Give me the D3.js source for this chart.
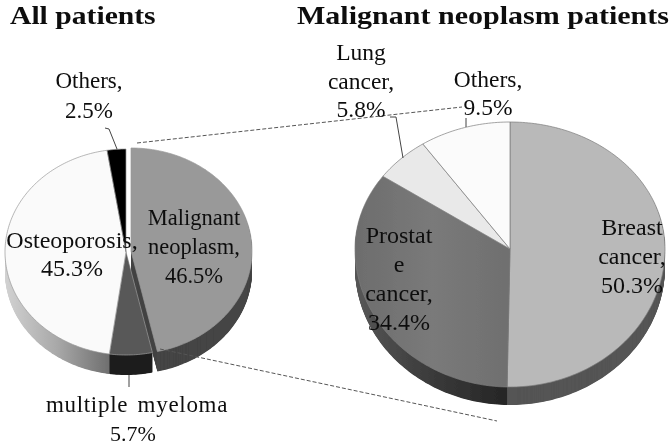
<!DOCTYPE html>
<html><head><meta charset="utf-8">
<script src="https://cdn.jsdelivr.net/npm/d3@7/dist/d3.min.js"></script>
<style>html,body{margin:0;padding:0;background:#fff}svg{display:block}text{font-family:"Liberation Serif",serif;fill:#111}</style>
</head><body><svg id="c" width="670" height="446"></svg>
<script>
const leftCategories=["Malignant neoplasm","multiple myeloma","Osteoporosis","Others"];
const leftValues=[46.5,5.7,45.3,2.5];
const rightCategories=["Breast cancer","Prostate cancer","Lung cancer","Others"];
const rightValues=[50.3,34.4,5.8,9.5];
const titleTexts=["All patients","Malignant neoplasm patients"];
const labelTexts=[["Malignant","neoplasm,","46.5%"],["Osteoporosis,","45.3%"],["Others,","2.5%"],["multiple myeloma"],["5.7%"],["Lung","cancer,","5.8%"],["Others,","9.5%"],["Breast","cancer,","50.3%"],["Prostat","e","cancer,","34.4%"]];

// styling and layout
const leftTop=["#999999","#585858","#fafafa","#000000"];
const leftWall=["#454545","#1e1e1e","url(#wallL)","#000000"];
const rightTop=["#b9b9b9","url(#topP)","#e9e9e9","#fbfbfb"];
const rightWall=["#555555","url(#wallP)","#999999","#bbbbbb"];
const titleLayout=[{x:10,y:23.5,sx:1.14},{x:297,y:23.5,sx:1.155}];
const labelLayout=[
 {x:194,y:225,dy:29,fs:22.5},
 {x:72,y:248,dy:28,fs:24},
 {x:89,y:88,dy:30,fs:23},
 {x:137,y:412,dy:0,fs:23,ls:0.7,ws:3},
 {x:133,y:441,dy:0,fs:22},
 {x:361,y:60,dy:28.5,fs:23.5},
 {x:488,y:87,dy:28,fs:23.5},
 {x:632,y:235,dy:29,fs:24},
 {x:399,y:243,dy:29,fs:24}
];
const leaders=[
 [[105,128],[109,129],[117,149]],
 [[390,117],[396,117],[403,158]],
 [[466,118],[466,127]],
 [[129,375],[129,387]]
];
const dashes=[
 [[137,143],[462,107]],
 [[160,349],[497,421]]
];
const svg=d3.select("#c");
const defs=svg.append("defs");
function grad(id,stops,x1,x2){
 const g=defs.append("linearGradient").attr("id",id).attr("gradientUnits","userSpaceOnUse")
  .attr("x1",x1).attr("x2",x2).attr("y1",0).attr("y2",0);
 stops.forEach(s=>g.append("stop").attr("offset",s[0]).attr("stop-color",s[1]));
}
grad("wallL",[[0,"#d2d2d2"],[0.5,"#a8a8a8"],[1,"#6e6e6e"]],5,110);
grad("topP",[[0,"#6d6d6d"],[0.5,"#7a7a7a"],[1,"#6f6f6f"]],356,510);
grad("wallP",[[0,"#555555"],[0.5,"#3a3a3a"],[1,"#262626"]],360,505);
const blur=defs.append("filter").attr("id","soft");
blur.append("feGaussianBlur").attr("stdDeviation",0.45);
const blurT=defs.append("filter").attr("id","softT").attr("x","-5%").attr("y","-5%").attr("width","110%").attr("height","110%");
blurT.append("feGaussianBlur").attr("stdDeviation",0.3);
const pie=d3.pie().sort(null);
const line=d3.line();
function drawPie(values,tops,walls,o){
 const g=svg.append("g").attr("filter","url(#soft)");
 const arcs=pie(values);
 const pt=(t,ox,oy)=>{
  const c=Math.cos(t);
  return [o.cx+ox+o.rx*Math.sin(t),o.cy+oy-(c>0?o.up:o.down)*c];
 };
 const slicePts=(a,ox,oy)=>{
  const n=Math.max(2,Math.ceil((a.endAngle-a.startAngle)/0.02));
  return [[o.cx+ox,o.cy+oy]].concat(d3.range(n+1).map(k=>pt(a.startAngle+(a.endAngle-a.startAngle)*k/n,ox,oy)));
 };
 const off=i=>o.explode&&o.explode[i]?o.explode[i]:[0,0];
 for(let d=o.depth;d>=1;d-=0.5){
  arcs.forEach((a,i)=>{
   g.append("path").attr("d",line(slicePts(a,off(i)[0],off(i)[1]+d))+"Z").attr("fill",walls[i]);
  });
 }
 arcs.forEach((a,i)=>{
  g.append("path").attr("d",line(slicePts(a,off(i)[0],off(i)[1]))+"Z").attr("fill",tops[i])
   .attr("stroke",o.stroke).attr("stroke-width",0.7);
 });
}
drawPie(leftValues,leftTop,leftWall,{cx:126,cy:252,rx:121,up:103,down:103,depth:20,stroke:"#9a9a9a",explode:{0:[5,-1]}});
drawPie(rightValues,rightTop,rightWall,{cx:510,cy:249,rx:155,up:127,down:138,depth:18,stroke:"#7d7d7d"});
const anno=svg.append("g").attr("filter","url(#soft)");
dashes.forEach(p=>anno.append("path").attr("d",line(p)).attr("fill","none").attr("stroke","#555").attr("stroke-width",1).attr("stroke-dasharray","4 2"));
leaders.forEach(p=>anno.append("path").attr("d",line(p)).attr("fill","none").attr("stroke","#444").attr("stroke-width",1));
const tg=svg.append("g").attr("filter","url(#softT)");
titleTexts.forEach((s,i)=>tg.append("text").text(s)
 .attr("transform",`translate(${titleLayout[i].x},${titleLayout[i].y}) scale(${titleLayout[i].sx},1)`)
 .attr("font-size",26).attr("font-weight","bold"));
labelTexts.forEach((lines,j)=>{
 const l=labelLayout[j];
 const t=tg.append("text").attr("text-anchor","middle").attr("font-size",l.fs)
  .attr("letter-spacing",l.ls||0).attr("word-spacing",l.ws||0);
 lines.forEach((s,i)=>t.append("tspan").text(s).attr("x",l.x).attr("y",l.y+i*l.dy));
});
</script></body></html>
